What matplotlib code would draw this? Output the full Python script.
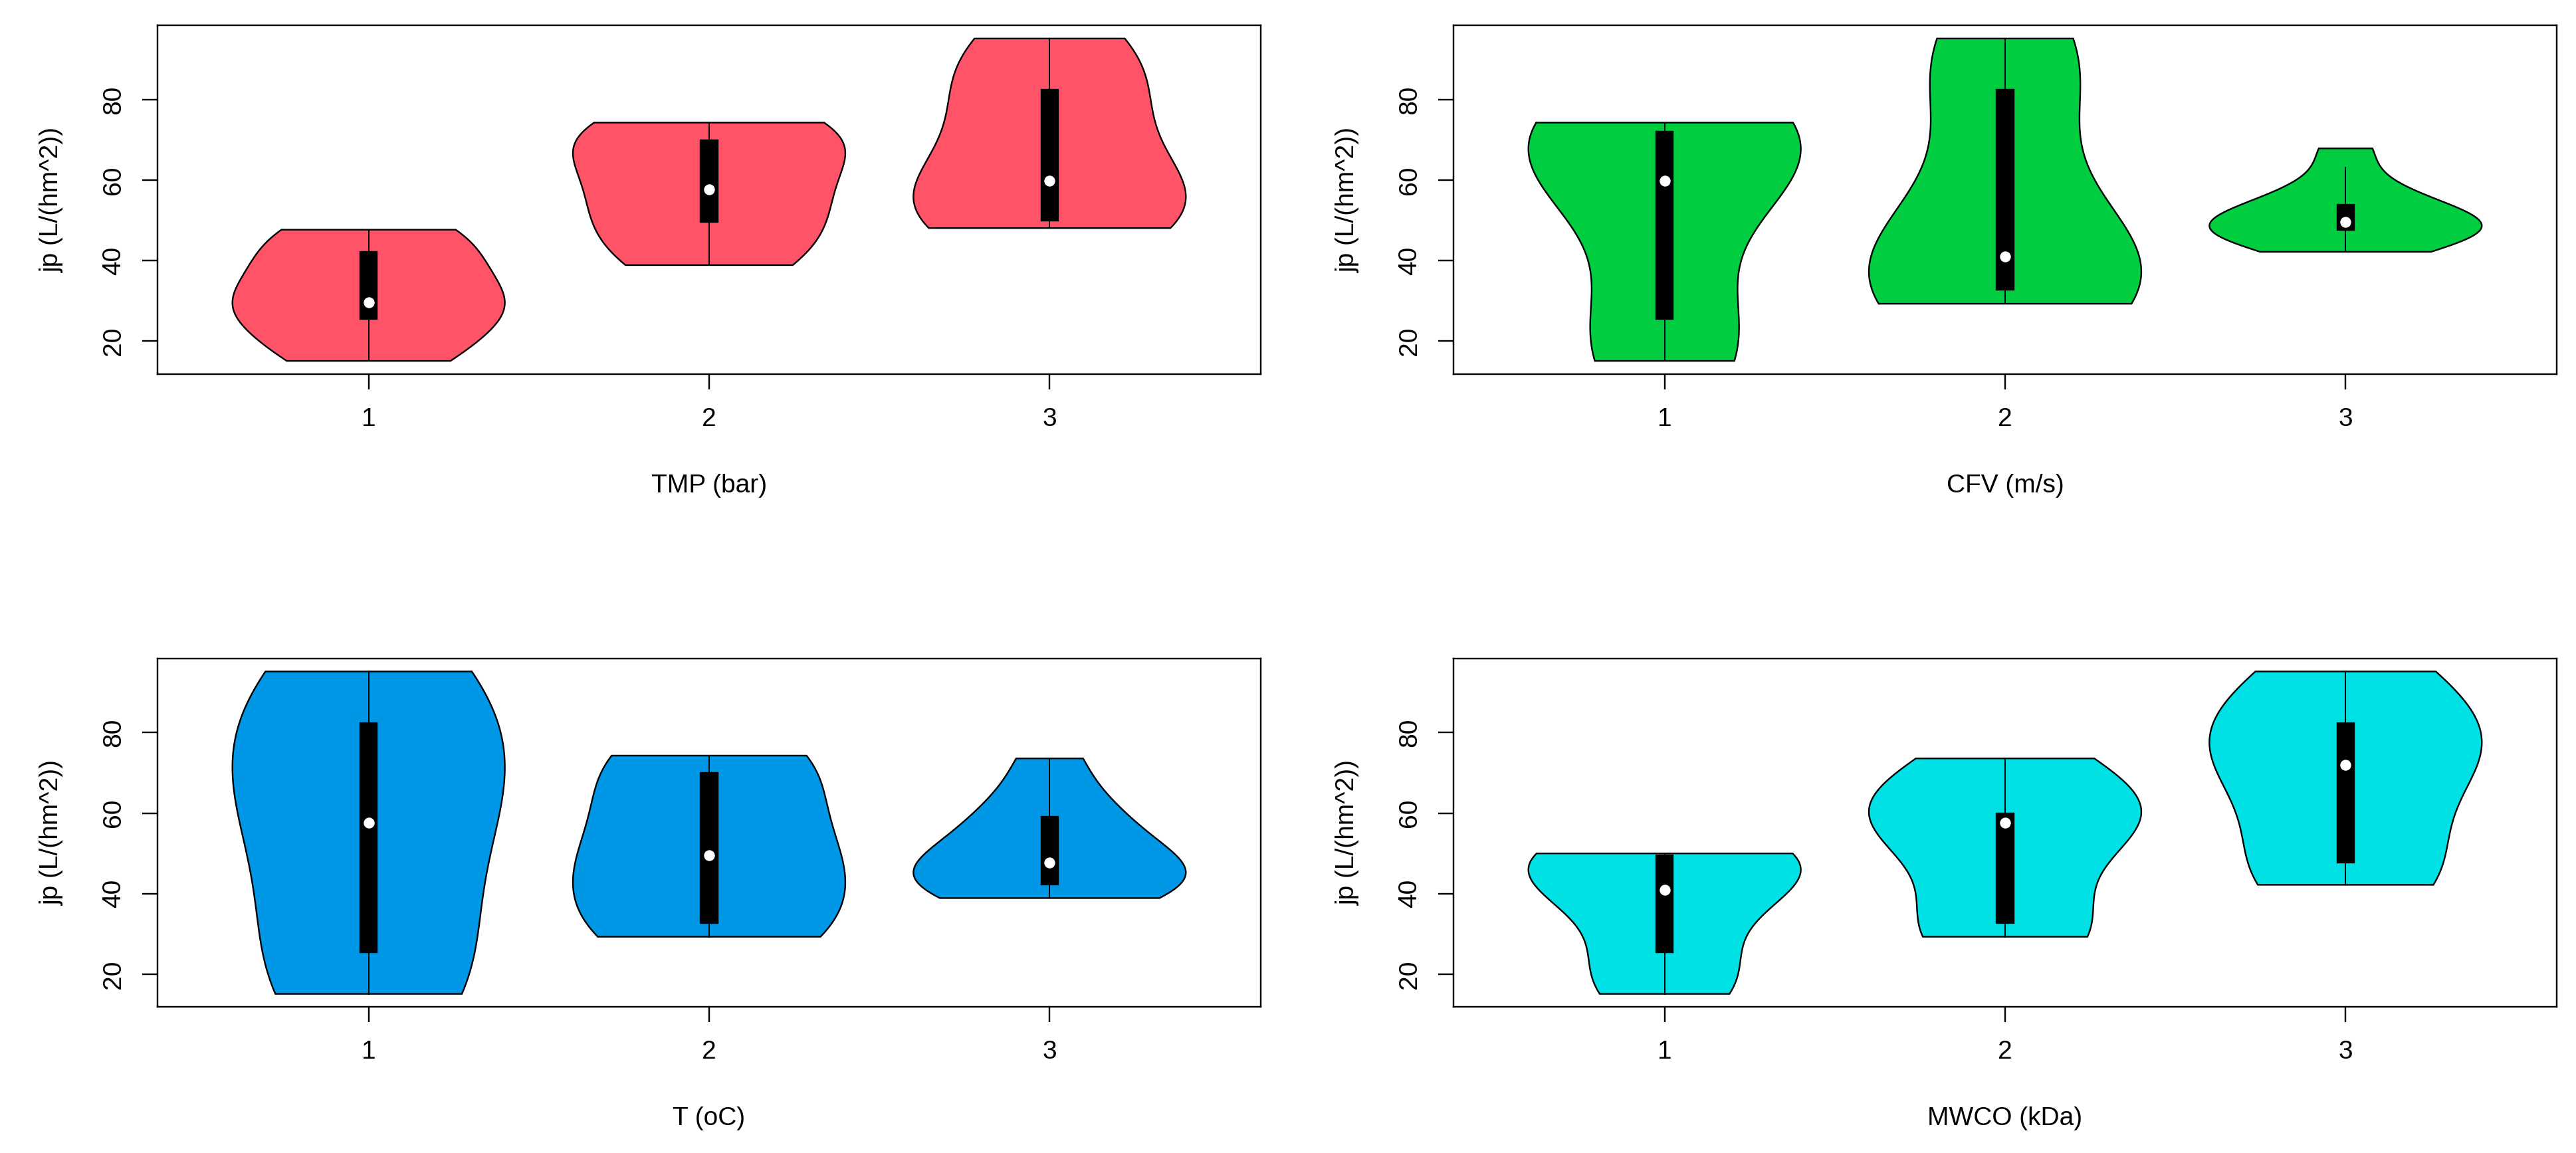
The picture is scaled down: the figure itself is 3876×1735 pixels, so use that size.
import numpy as np
import matplotlib
matplotlib.use("Agg")
import matplotlib.pyplot as plt
from matplotlib.patches import Rectangle

plt.rcParams['font.family'] = ['Liberation Sans', 'DejaVu Sans']

# ---- data: Taguchi L9 design, three jp observations per run ----
TMP  = [1, 1, 1, 2, 2, 2, 3, 3, 3]
CFV  = [1, 2, 3, 1, 2, 3, 1, 2, 3]
T    = [1, 2, 3, 2, 3, 1, 3, 1, 2]
MWCO = [1, 2, 3, 3, 1, 2, 2, 3, 1]
jp_run = [
    [15.1, 17.0, 25.5],
    [29.3, 29.6, 32.7],
    [42.2, 45.0, 47.7],
    [70.0, 72.0, 74.3],
    [38.9, 41.0, 49.6],
    [53.9, 57.7, 67.9],
    [59.1, 59.9, 73.6],
    [82.4, 90.0, 95.2],
    [48.1, 49.6, 50.0],
]
factors = [TMP, CFV, T, MWCO]
xlabels = ["TMP (bar)", "CFV (m/s)", "T (oC)", "MWCO (kDa)"]
colors = ["#FF5468", "#00CD3F", "#0098E6", "#00E1E6"]
levels = [1, 2, 3]
yticks = [20, 40, 60, 80]
ylab = "jp (L/(hm^2))"

W, H, DPI = 3876, 1735, 100
fig = plt.figure(figsize=(W / DPI, H / DPI), dpi=DPI)

px = 1.0 / DPI * 72  # points per pixel
LW = 2.4 * px
FS = 28

ax_w, ax_h = 1660, 524
lefts = [237, 2187, 237, 2187]
tops = [38.5, 38.5, 991, 991]

all_vals = np.concatenate([np.array(r) for r in jp_run])
ymin, ymax = all_vals.min(), all_vals.max()
yr = ymax - ymin


def violin(ax, data, pos, color):
    d = np.sort(np.asarray(data, dtype=float))
    n = len(d)
    q1, med, q3 = np.quantile(d, [0.25, 0.5, 0.75])
    iqd = q3 - q1
    upper = min(q3 + 1.5 * iqd, d.max())
    lower = max(q1 - 1.5 * iqd, d.min())
    lo, hi = min(lower, d.min()), max(upper, d.max())
    h = d.std(ddof=1) * (4.0 / (3.0 * n)) ** 0.2
    grid = np.linspace(lo, hi, 100)
    est = np.exp(-0.5 * ((grid[:, None] - d[None, :]) / h) ** 2).sum(1) / (n * h * np.sqrt(2 * np.pi))
    w = est * 0.4 / est.max()
    xs = np.concatenate([pos - w, (pos + w)[::-1]])
    ys = np.concatenate([grid, grid[::-1]])
    ax.fill(xs, ys, facecolor=color, edgecolor="black", lw=LW, zorder=2)
    ax.plot([pos, pos], [lower, upper], color="black", lw=LW * 0.8, zorder=3)
    bw = 0.05
    ax.add_patch(Rectangle((pos - bw / 2, q1), bw, q3 - q1, facecolor="black",
                           edgecolor="black", lw=LW, zorder=4))
    ax.plot([pos], [med], "o", color="white", ms=15 * px, mec="white", zorder=5)


for k in range(4):
    ax = fig.add_axes([lefts[k] / W, 1 - (tops[k] + ax_h) / H, ax_w / W, ax_h / H])
    fac = factors[k]
    for lv in levels:
        vals = np.concatenate([np.array(jp_run[i]) for i in range(9) if fac[i] == lv])
        violin(ax, vals, lv, colors[k])
    ax.set_xlim(0.5 - 0.12, 3.5 + 0.12)
    ax.set_ylim(ymin - 0.04 * yr, ymax + 0.04 * yr)
    ax.set_xticks(levels)
    ax.set_xticklabels([str(v) for v in levels], fontsize=FS)
    ax.set_yticks(yticks)
    ax.set_yticklabels([str(v) for v in yticks], fontsize=FS, rotation=90, va="center")
    ax.tick_params(axis="both", length=23 * px, width=LW, direction="out", color="black")
    ax.tick_params(axis="x", pad=27 * px)
    ax.tick_params(axis="y", pad=25 * px)
    for s in ax.spines.values():
        s.set_linewidth(LW)
    ax.set_xlabel(xlabels[k], fontsize=FS, va="center")
    ax.xaxis.set_label_coords(0.5, -168 / ax_h)
    ax.set_ylabel(ylab, fontsize=FS, va="center", ha="center")
    ax.yaxis.set_label_coords(-159 / ax_w, 0.5)

fig.savefig("out.png", dpi=DPI, facecolor="white")
